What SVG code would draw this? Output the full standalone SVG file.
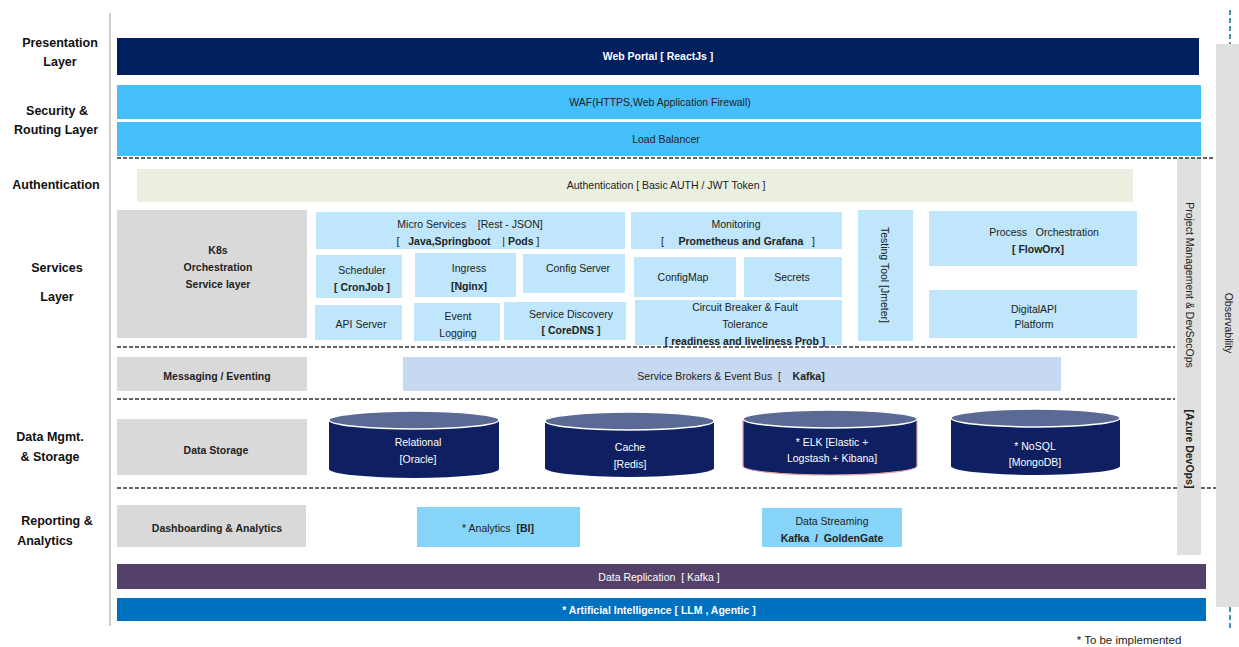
<svg xmlns="http://www.w3.org/2000/svg" width="1239" height="647" viewBox="0 0 1239 647">
<style>
text{font-family:"Liberation Sans",Arial,sans-serif;font-size:10.5px;fill:#222;text-anchor:middle}
.pre{white-space:pre}
.lbl{font-size:12.5px;font-weight:bold;fill:#111}
.b{font-weight:bold}
.w{fill:#fff}
.sv{fill:#bfe6fa}
.gr{fill:#d9d9d9}
.dash{stroke:#333;stroke-width:1.4;stroke-dasharray:4 2;fill:none}
.tdash{stroke:#4a8ca5;stroke-width:2;stroke-dasharray:5 3;fill:none}
.cylb{fill:#0e2062}
.cylt{fill:#5b6a94;stroke:#fff;stroke-width:1.5}
</style>
<rect width="1239" height="647" fill="#fff"/>
<line x1="110" y1="13" x2="110" y2="626" stroke="#aaa" stroke-width="1.2"/>
<g id="side-bars">
<rect x="1216" y="44" width="23" height="563" fill="#e0e0e0"/>
<rect x="1177" y="158" width="24" height="397" fill="#e0e0e0"/>
</g>
<g id="connectors">
<line class="dash" x1="117" y1="158" x2="1215" y2="158"/>
<line class="dash" x1="117" y1="347" x2="1175" y2="347"/>
<line class="dash" x1="117" y1="399" x2="1175" y2="399"/>
<line class="dash" x1="117" y1="488" x2="1177" y2="488"/>
<line class="dash" x1="1201" y1="488" x2="1216" y2="488"/>
<line class="tdash" x1="1230" y1="10" x2="1230" y2="44"/>
<line class="tdash" x1="1230" y1="607" x2="1230" y2="630"/>
</g>
<g id="layer-labels">
<text class="lbl" x="60" y="47">Presentation</text>
<text class="lbl" x="60" y="66">Layer</text>
<text class="lbl" x="57" y="115">Security &amp;</text>
<text class="lbl" x="56" y="134">Routing Layer</text>
<text class="lbl" x="56" y="189">Authentication</text>
<text class="lbl" x="57" y="272">Services</text>
<text class="lbl" x="57" y="301">Layer</text>
<text class="lbl" x="50" y="441">Data Mgmt.</text>
<text class="lbl" x="50" y="461">&amp; Storage</text>
<text class="lbl" x="57" y="525">Reporting &amp;</text>
<text class="lbl" x="45" y="545">Analytics</text>
</g>
<g id="web-portal">
<rect x="117" y="38" width="1082" height="37" fill="#002060"/>
<text class="b w" x="658" y="60">Web Portal [ ReactJs ]</text>
</g>
<g id="waf">
<rect x="117" y="85" width="1084" height="34" fill="#45bffa"/>
<text x="660" y="106">WAF(HTTPS,Web Application Firewall)</text>
</g>
<g id="load-balancer">
<rect x="117" y="122" width="1084" height="34" fill="#45bffa"/>
<text x="666" y="143">Load Balancer</text>
</g>
<g id="authentication">
<rect x="137" y="169" width="996" height="33" fill="#ebefe0"/>
<text x="666" y="189">Authentication [ Basic AUTH / JWT Token ]</text>
</g>
<g id="k8s">
<rect class="gr" x="117" y="210" width="190" height="128"/>
<text class="b" x="218" y="254">K8s</text>
<text class="b" x="218" y="271">Orchestration</text>
<text class="b" x="218" y="288">Service layer</text>
</g>
<g id="micro-services">
<rect class="sv" x="316" y="212" width="309" height="37"/>
<text class="pre" x="470" y="228">Micro Services    [Rest - JSON]</text>
<text class="pre" x="468" y="245">[   <tspan class="b">Java,Springboot</tspan>    | <tspan class="b">Pods</tspan> ]</text>
</g>
<g id="monitoring">
<rect class="sv" x="631" y="212" width="211" height="37"/>
<text x="736" y="228">Monitoring</text>
<text class="pre" x="738" y="245">[     <tspan class="b">Prometheus and Grafana</tspan>   ]</text>
</g>
<g id="scheduler">
<rect class="sv" x="316" y="255" width="86" height="43"/>
<text x="362" y="274">Scheduler</text>
<text class="b" x="362" y="291">[ CronJob ]</text>
</g>
<g id="ingress">
<rect class="sv" x="415" y="253" width="101" height="44"/>
<text x="469" y="272">Ingress</text>
<text class="b" x="469" y="290">[Nginx]</text>
</g>
<g id="config-server">
<rect class="sv" x="523" y="254" width="102" height="39"/>
<text x="578" y="272">Config Server</text>
</g>
<g id="configmap">
<rect class="sv" x="634" y="257" width="102" height="40"/>
<text x="683" y="281">ConfigMap</text>
</g>
<g id="secrets">
<rect class="sv" x="744" y="257" width="98" height="40"/>
<text x="792" y="281">Secrets</text>
</g>
<g id="api-server">
<rect class="sv" x="315" y="305" width="87" height="35"/>
<text x="361" y="328">API Server</text>
</g>
<g id="event-logging">
<rect class="sv" x="414" y="303" width="86" height="38"/>
<text x="458" y="320">Event</text>
<text x="458" y="337">Logging</text>
</g>
<g id="service-discovery">
<rect class="sv" x="504" y="302" width="122" height="38"/>
<text x="571" y="318">Service Discovery</text>
<text class="b" x="571" y="334">[ CoreDNS ]</text>
</g>
<g id="circuit-breaker">
<rect class="sv" x="635" y="300" width="207" height="45"/>
<text x="745" y="311">Circuit Breaker &amp; Fault</text>
<text x="745" y="328">Tolerance</text>
<text class="b" x="745" y="345">[ readiness and liveliness Prob ]</text>
</g>
<g id="testing-tool">
<rect class="sv" x="858" y="210" width="55" height="131"/>
<text transform="rotate(90 881 275)" x="881" y="275">Testing Tool [Jmeter]</text>
</g>
<g id="process-orchestration">
<rect class="sv" x="929" y="211" width="208" height="55"/>
<text class="pre" x="1044" y="236">Process   Orchestration</text>
<text class="b" x="1038" y="253">[ FlowOrx]</text>
</g>
<g id="digitalapi">
<rect class="sv" x="929" y="290" width="208" height="48"/>
<text x="1034" y="313">DigitalAPI</text>
<text x="1034" y="328">Platform</text>
</g>
<g id="project-management">
<text transform="rotate(90 1186 285)" x="1186" y="285">Project Management &amp; DevSecOps</text>
<text class="b" transform="rotate(90 1186 449)" x="1186" y="449">[Azure DevOps]</text>
</g>
<g id="observability">
<text transform="rotate(90 1225 323)" x="1225" y="323">Observability</text>
</g>
<g id="messaging">
<rect class="gr" x="117" y="357" width="190" height="34"/>
<text class="b" x="217" y="380">Messaging / Eventing</text>
</g>
<g id="service-brokers">
<rect x="403" y="357" width="658" height="34" fill="#c6d9f0"/>
<text class="pre" x="731" y="380">Service Brokers &amp; Event Bus  [    <tspan class="b">Kafka]</tspan></text>
</g>
<g id="data-storage">
<rect class="gr" x="117" y="419" width="190" height="56"/>
<text class="b" x="216" y="454">Data Storage</text>
</g>
<g id="relational">
<path class="cylb" d="M329 420 V469 A85 9 0 0 0 499 469 V420 Z"/>
<ellipse class="cylt" cx="414" cy="420" rx="85" ry="9"/>
<text class="w" x="418" y="446">Relational</text>
<text class="w" x="418" y="463">[Oracle]</text>
</g>
<g id="cache">
<path class="cylb" d="M545 421 V468 A84.5 9 0 0 0 714 468 V421 Z"/>
<ellipse class="cylt" cx="629.5" cy="421" rx="84.5" ry="9"/>
<text class="w" x="630" y="451">Cache</text>
<text class="w" x="630" y="468">[Redis]</text>
</g>
<g id="elk">
<path class="cylb" d="M743 419 V466 A87 9 0 0 0 917 466 V419 Z" stroke="#e4a4a4" stroke-width="1.2"/>
<ellipse class="cylt" cx="830" cy="419" rx="87" ry="9"/>
<text class="w" x="832" y="446">* ELK [Elastic +</text>
<text class="w" x="832" y="462">Logstash + Kibana]</text>
</g>
<g id="nosql">
<path class="cylb" d="M951 418 V466 A84.5 9 0 0 0 1120 466 V418 Z"/>
<ellipse class="cylt" cx="1035.5" cy="418" rx="84.5" ry="9"/>
<text class="w" x="1035" y="450">* NoSQL</text>
<text class="w" x="1035" y="466">[MongoDB]</text>
</g>
<g id="dashboarding">
<rect class="gr" x="117" y="505" width="189" height="42"/>
<text class="b" x="217" y="532">Dashboarding &amp; Analytics</text>
</g>
<g id="analytics">
<rect x="417" y="507" width="163" height="40" fill="#87d4f9"/>
<text class="pre" x="498" y="532">* Analytics  <tspan class="b">[BI]</tspan></text>
</g>
<g id="data-streaming">
<rect x="762" y="508" width="140" height="39" fill="#87d4f9"/>
<text x="832" y="525">Data Streaming</text>
<text class="b pre" x="832" y="542">Kafka  /  GoldenGate</text>
</g>
<g id="data-replication">
<rect x="117" y="564" width="1089" height="25" fill="#544169"/>
<text class="w pre" x="659" y="581">Data Replication  [ Kafka ]</text>
</g>
<g id="ai">
<rect x="117" y="598" width="1089" height="23" fill="#0070c0"/>
<text class="b w" x="659" y="614">* Artificial Intelligence [ LLM , Agentic ]</text>
</g>
<g id="footnote">
<text x="1129" y="644" style="font-size:11.5px">* To be implemented</text>
</g>
</svg>
